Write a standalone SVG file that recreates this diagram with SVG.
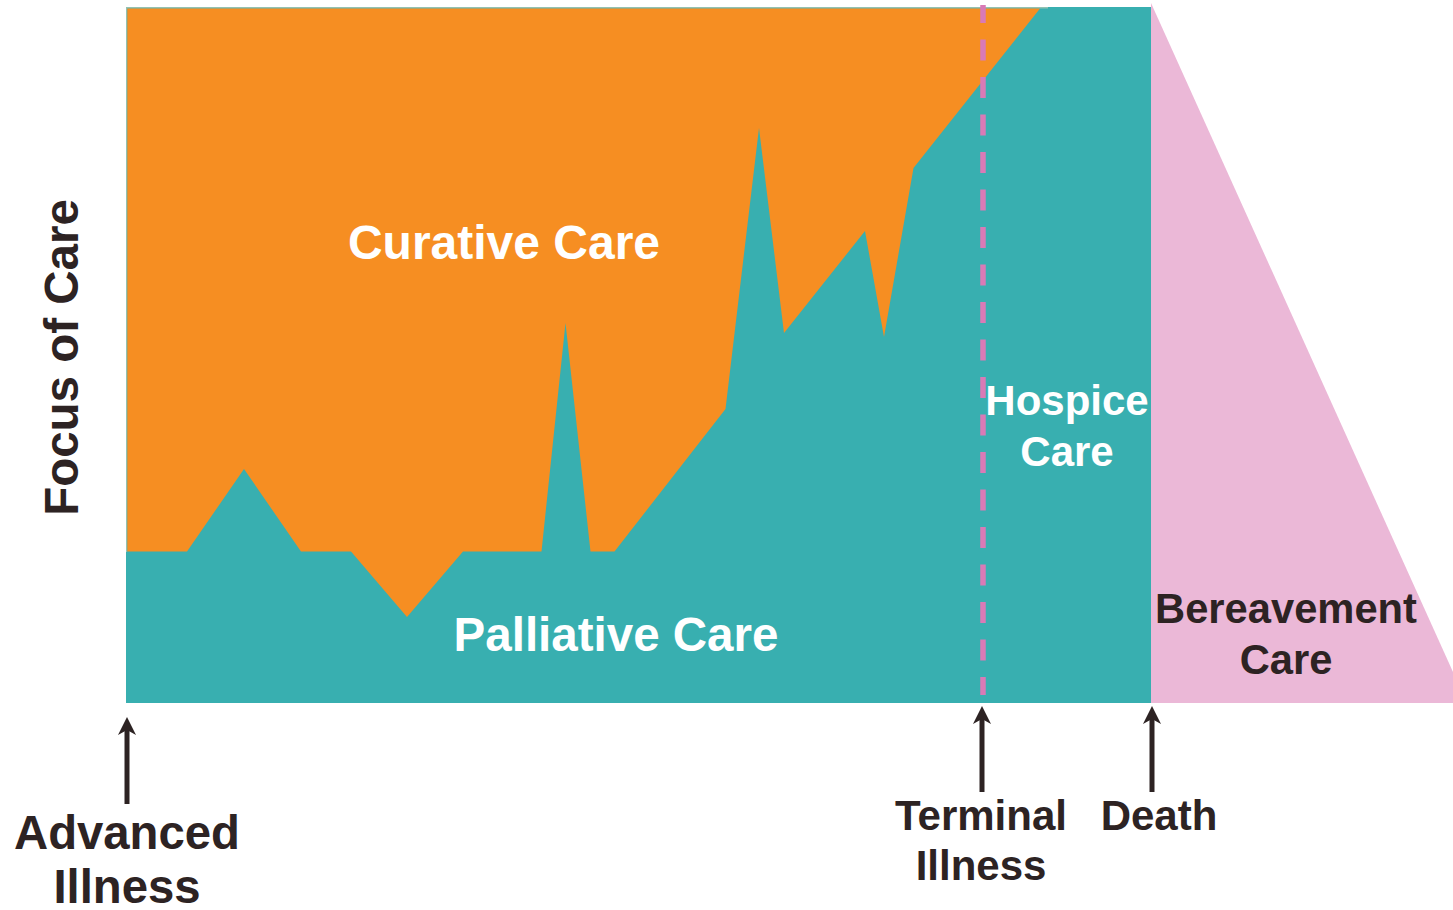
<svg xmlns="http://www.w3.org/2000/svg" width="1453" height="910" viewBox="0 0 1453 910">
<style>
.lbl{font-family:"Liberation Sans",Arial,sans-serif;font-weight:bold;text-anchor:middle}
.w{fill:#ffffff}
.d{fill:#2d2323}
</style>
<defs>
<marker id="ah" markerUnits="userSpaceOnUse" markerWidth="22" markerHeight="20" viewBox="-20 -10 22 20" refX="-12" refY="0" orient="auto">
<path d="M0,0 L-18,-9 L-13,0 L-18,9 Z" fill="#2d2323"/>
</marker>
</defs>
<rect width="1453" height="910" fill="#ffffff"/>
<g id="palliative">
<rect x="126" y="7" width="1025" height="696" fill="#38afb0"/>
<rect x="126" y="7" width="922" height="1.5" fill="#92c2b3"/>
<rect x="126" y="7" width="1.2" height="545" fill="#92c2b3"/>
</g>
<g id="curative">
<polygon fill="#f68e22" points="127.3,8.5 1040,8.5 913.5,168 884,337 865,231 784,333 759,128 725.5,409 614.5,551.5 590.5,551.5 565.5,323 541.5,551.5 463,551.5 407,617 351,551.5 301,551.5 244,469 187,551.5 127.3,551.5"/>
</g>
<g id="bereavement">
<polygon fill="#ebb8d7" points="1151,3 1453,672 1453,703 1151,703"/>
</g>
<g id="terminal-line">
<line x1="983" y1="5" x2="983" y2="695" stroke="#d97ab6" stroke-width="5.5" stroke-dasharray="21 16.5" stroke-dashoffset="3"/>
</g>
<g id="connectors" stroke="#2d2323" stroke-width="5" fill="none">
<line x1="127" y1="804" x2="127" y2="729" marker-end="url(#ah)"/>
<line x1="982" y1="792" x2="982" y2="718" marker-end="url(#ah)"/>
<line x1="1152" y1="792" x2="1152" y2="718" marker-end="url(#ah)"/>
</g>
<g id="labels">
<text class="lbl w" x="504" y="259" font-size="48">Curative Care</text>
<text class="lbl w" x="616" y="651" font-size="47.5">Palliative Care</text>
<text class="lbl w" x="1067" y="415" font-size="42">Hospice</text>
<text class="lbl w" x="1067" y="466" font-size="42">Care</text>
<text class="lbl d" x="1286" y="623" font-size="41.7">Bereavement</text>
<text class="lbl d" x="1286" y="674" font-size="41.7">Care</text>
<text class="lbl d" transform="translate(78,357.5) rotate(-90)" x="0" y="0" font-size="47.5">Focus of Care</text>
<text class="lbl d" x="127" y="849" font-size="47.3">Advanced</text>
<text class="lbl d" x="127" y="903" font-size="47.3">Illness</text>
<text class="lbl d" x="981" y="830" font-size="42">Terminal</text>
<text class="lbl d" x="981" y="880" font-size="42">Illness</text>
<text class="lbl d" x="1159" y="830" font-size="42">Death</text>
</g>
</svg>
